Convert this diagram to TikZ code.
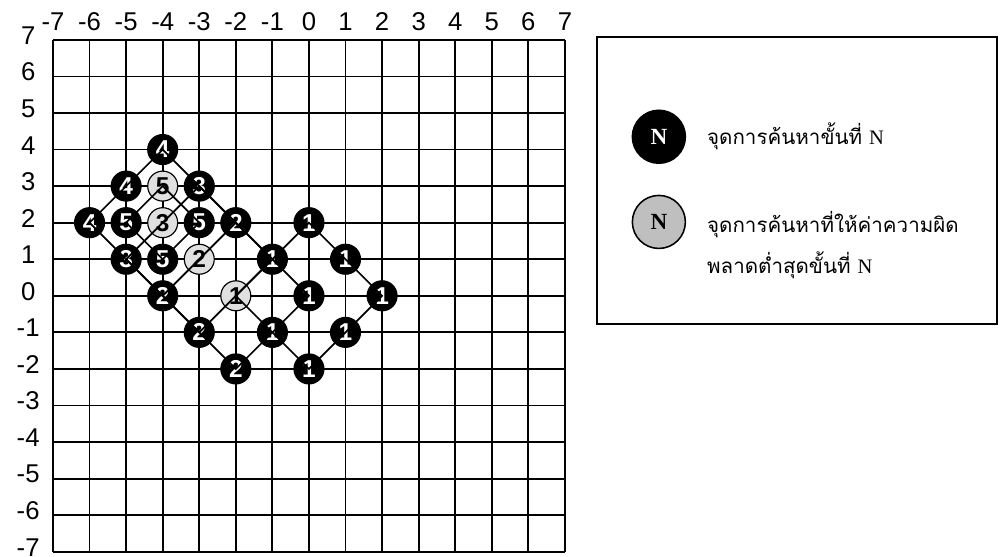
\documentclass[tikz,border=0pt]{standalone}
\usepackage{fontspec}
\setmainfont{Liberation Sans}
\newfontfamily\thaifont[Script=Thai]{Loma}
\newfontfamily\romanfont{Liberation Serif}
\usetikzlibrary{positioning}

\begin{document}
\begin{tikzpicture}[
    every node/.style={font=\fontsize{20}{22}\selectfont},
    gridline/.style={line width=1.4pt},
    trail/.style={line width=1.3pt},
    searchpt/.style={circle, draw=black, fill=black, line width=0.9pt, minimum size=0.82cm, inner sep=0pt, text=white, font=\fontsize{19}{21}\selectfont\bfseries},
    bestpt/.style={searchpt, fill=black!12, text=black},
    keypt/.style={circle, draw=black, fill=black, line width=1.2pt, minimum size=1.45cm, inner sep=0pt, text=white, font=\fontsize{18}{20}\selectfont\romanfont\bfseries},
    keytext/.style={anchor=west, align=left, font=\fontsize{16}{32}\selectfont\thaifont}
]

\useasboundingbox (-8.45,-7.14) rectangle (18.90,8.09);

% Draw the grid with its labels
\draw[gridline] (-7,-7) grid (7,7);
\foreach \i in {-7,...,7} {
    \node (xl\i) at (\i,7.5) {\i};
    \node (yl\i) at (-7.68,\i+0.12) {\i};
}

% Step 1: diamond around (0,0)
\node[searchpt] (s1n) at (0,2) {1};
\node[searchpt] (s1ne) at (1,1) {1};
\node[searchpt] (s1e) at (2,0) {1};
\node[searchpt] (s1se) at (1,-1) {1};
\node[searchpt] (s1s) at (0,-2) {1};
\node[searchpt] (s1sw) at (-1,-1) {1};
\node[searchpt] (s1nw) at (-1,1) {1};
\node[searchpt] (s1c) at (0,0) {1};
\node[bestpt] (s1w) at (-2,0) {1};

% Step 2: diamond around (-2,0)
\node[searchpt] (s2n) at (-2,2) {2};
\node[bestpt] (s2nw) at (-3,1) {2};
\node[searchpt] (s2w) at (-4,0) {2};
\node[searchpt] (s2sw) at (-3,-1) {2};
\node[searchpt] (s2s) at (-2,-2) {2};

% Step 3: diamond around (-3,1)
\node[searchpt] (s3n) at (-3,3) {3};
\node[searchpt] (s3w) at (-5,1) {3};
\node[bestpt] (s3nw) at (-4,2) {3};

% Step 4: diamond around (-4,2)
\node[searchpt] (s4n) at (-4,4) {4};
\node[searchpt] (s4nw) at (-5,3) {4};
\node[searchpt] (s4w) at (-6,2) {4};

% Step 5: small diamond around (-4,2)
\node[bestpt] (s5n) at (-4,3) {5};
\node[searchpt] (s5e) at (-3,2) {5};
\node[searchpt] (s5s) at (-4,1) {5};
\node[searchpt] (s5w) at (-5,2) {5};

% Diamond outlines
\draw[trail] (s1n.center) -- (s1e.center) -- (s1s.center) -- (s1w.center) -- cycle;
\draw[trail] (s2n.center) -- (s1c.center) -- (s2s.center) -- (s2w.center) -- cycle;
\draw[trail] (s3n.center) -- (s1nw.center) -- (s2sw.center) -- (s3w.center) -- cycle;
\draw[trail] (s4n.center) -- (s2n.center) -- (s2w.center) -- (s4w.center) -- cycle;
\draw[trail] (s5n.center) -- (s5e.center) -- (s5s.center) -- (s5w.center) -- cycle;

% Legend
\draw[line width=1.5pt] (7.875,-0.77) rectangle (18.81,7.08);
\node[keypt] (keyblack) at (9.57,4.35) {N};
\node[keypt, fill=black!25, text=black] (keygray) at (9.57,2.02) {N};
\node[keytext, right=0.45cm of keyblack] (textblack) {จุดการค้นหาขั้นที่ {\romanfont N}};
\node[keytext, anchor=north west] (textgray) at ([xshift=0.45cm, yshift=0.42cm]keygray.east) {จุดการค้นหาที่ให้ค่าความผิด\\พลาดต่ำสุดขั้นที่ {\romanfont N}};

\end{tikzpicture}
\end{document}
